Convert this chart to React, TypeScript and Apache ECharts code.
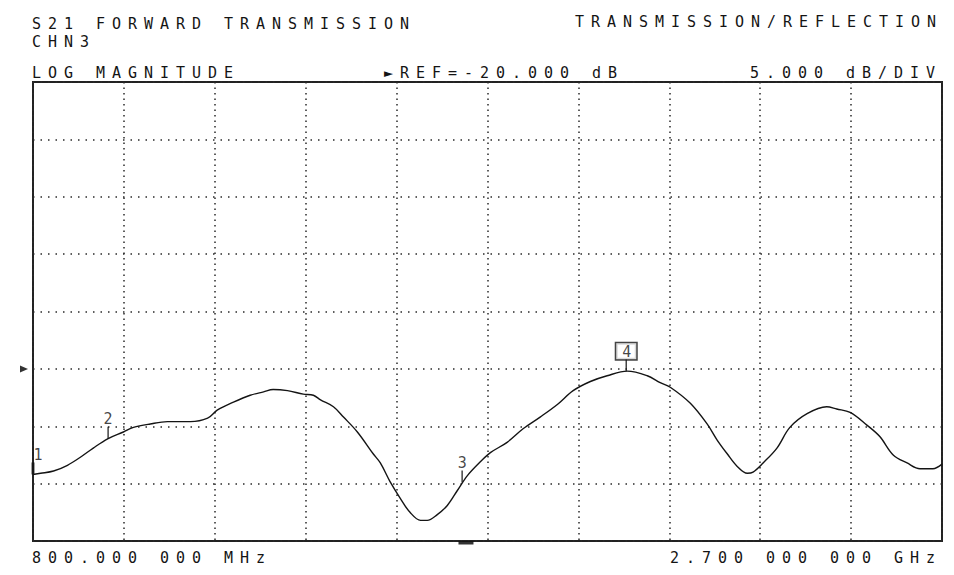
import React, { useEffect, useRef } from 'react';
import * as echarts from 'echarts';

const FREQ_MHZ = [
  800, 816, 843, 872, 899, 926, 956, 989, 1010, 1045, 1081, 1129, 1165, 1185, 1219, 1254, 1282, 1302,
  1332, 1365, 1386, 1401, 1428, 1449, 1478, 1511, 1526, 1546, 1568, 1588, 1610, 1624, 1645, 1666, 1687,
  1708, 1735, 1756, 1791, 1825, 1860, 1896, 1929, 1965, 2000, 2042, 2084, 2111, 2132, 2174, 2209, 2230,
  2251, 2272, 2293, 2305, 2326, 2355, 2382, 2418, 2459, 2480, 2508, 2543, 2570, 2598, 2627, 2654, 2681, 2700,
];
const S21_DB = [
  -29.2, -29.1, -28.9, -28.4, -27.7, -26.9, -26.1, -25.5, -25.1, -24.8, -24.6, -24.6, -24.3, -23.6, -22.9,
  -22.3, -22.0, -21.8, -21.9, -22.2, -22.3, -22.7, -23.3, -24.2, -25.5, -27.4, -28.2, -29.8, -31.3, -32.5,
  -33.2, -33.2, -32.7, -31.9, -30.6, -29.3, -28.1, -27.3, -26.4, -25.2, -24.2, -23.1, -21.9, -21.1, -20.6,
  -20.2, -20.6, -21.2, -21.6, -23.0, -24.8, -26.2, -27.4, -28.5, -29.1, -29.0, -28.2, -26.9, -25.1, -23.9,
  -23.3, -23.5, -23.8, -24.9, -25.9, -27.5, -28.2, -28.7, -28.7, -28.3,
];
const MARKER_FREQ = [800, 957, 1697, 2040];
const MARKER_DB = [-29.2, -26.1, -29.9, -20.2];
const MARKER_LABELS = ['1', '2', '3', '4'];
const ACTIVE_MARKER = 3;
const REF_LEVEL_DB = -20;
const STIMULUS_MARK_MHZ = 1705;
const X_START_MHZ = 800;
const X_STOP_MHZ = 2700;
const Y_TOP_DB = 5;
const Y_BOTTOM_DB = -35;
const DB_PER_DIV = 5;
const X_DIVISIONS = 10;

// ---- Screen texts ----
const TXT_MEAS = 'S21 FORWARD TRANSMISSION';
const TXT_MODE = 'TRANSMISSION/REFLECTION';
const TXT_CHAN = 'CHN3';
const TXT_FORMAT = 'LOG MAGNITUDE';
const TXT_REF = '\u25BAREF=-20.000 dB';
const TXT_SCALE = '5.000 dB/DIV';
const TXT_START = '800.000 000 MHz';
const TXT_STOP = '2.700 000 000 GHz';

const FONT_FAMILY = '"DejaVu Sans Mono", "Liberation Mono", monospace';
const FONT_SIZE = 15;
const CHAR_PITCH = 16;
const LETTER_SPACING = CHAR_PITCH - FONT_SIZE * 0.602;
const INK = '#141414';

const SPACED_TEXTS = new Set([TXT_MEAS, TXT_MODE, TXT_CHAN, TXT_FORMAT, TXT_REF, TXT_SCALE, TXT_START, TXT_STOP]);

function headerText(text: string, x: number, y: number) {
  return {
    type: 'text',
    x,
    y,
    silent: true,
    style: {
      text,
      fill: INK,
      font: `${FONT_SIZE}px ${FONT_FAMILY}`,
      textAlign: 'left',
      textVerticalAlign: 'middle',
    },
  };
}

export default function App() {
  const ref = useRef<HTMLDivElement>(null);

  useEffect(() => {
    if (!ref.current) return;
    const el = ref.current;
    const chart = echarts.init(el, undefined, { renderer: 'svg' });

    const traceData = FREQ_MHZ.map((f, i) => [f, S21_DB[i]]);

    const markerData = MARKER_FREQ.map((f, i) => {
      const active = i === ACTIVE_MARKER;
      return {
        value: [f, MARKER_DB[i]],
        symbol: 'rect',
        symbolSize: i === 0 ? [3, 12] : [1.5, 12],
        symbolOffset: [0, -6],
        label: active
          ? {
              show: true,
              position: 'top',
              distance: 0,
              formatter: MARKER_LABELS[i],
              color: INK,
              fontFamily: FONT_FAMILY,
              fontSize: FONT_SIZE,
              borderColor: INK,
              borderWidth: 1.5,
              padding: [1, 5, 0, 6],
              backgroundColor: '#fff',
            }
          : {
              show: true,
              position: 'top',
              distance: 0,
              formatter: MARKER_LABELS[i],
              color: INK,
              fontFamily: FONT_FAMILY,
              fontSize: FONT_SIZE,
              offset: i === 0 ? [5, 0] : [0, 0],
            },
      };
    });

    const option: any = {
      animation: false,
      backgroundColor: '#ffffff',
      grid: {
        left: 33,
        right: 12,
        top: 82,
        bottom: 34,
        show: true,
        borderColor: '#222',
        borderWidth: 2,
        backgroundColor: 'transparent',
      },
      xAxis: [
        {
          type: 'value',
          min: X_START_MHZ,
          max: X_STOP_MHZ,
          show: false,
        },
        {
          type: 'value',
          min: 0,
          max: X_DIVISIONS,
          interval: 1,
          position: 'top',
          axisLine: { show: false },
          axisTick: { show: false },
          axisLabel: { show: false },
          splitLine: { show: true, lineStyle: { color: '#2a2a2a', width: 1.5, type: [1.5, 4] } },
        },
      ],
      yAxis: {
        type: 'value',
        min: Y_BOTTOM_DB,
        max: Y_TOP_DB,
        interval: DB_PER_DIV,
        axisLine: { show: false },
        axisTick: { show: false },
        axisLabel: { show: false },
        splitLine: { show: true, lineStyle: { color: '#2a2a2a', width: 1.5, type: [1.5, 6] } },
      },
      graphic: [
        headerText(TXT_MEAS, 32, 24),
        headerText(TXT_MODE, 575, 22),
        headerText(TXT_CHAN, 32, 42),
        headerText(TXT_FORMAT, 32, 73),
        headerText(TXT_REF, 384, 73),
        headerText(TXT_SCALE, 750, 73),
        headerText(TXT_START, 32, 558),
        headerText(TXT_STOP, 670, 558),
      ],
      series: [
        {
          type: 'line',
          name: 'S21',
          xAxisIndex: 0,
          data: traceData,
          showSymbol: false,
          smooth: 0.35,
          lineStyle: { color: INK, width: 1.4 },
          silent: true,
          z: 3,
        },
        {
          type: 'scatter',
          name: 'Markers',
          xAxisIndex: 0,
          data: markerData,
          itemStyle: { color: INK },
          clip: false,
          silent: true,
          z: 4,
        },
        {
          type: 'scatter',
          name: 'Reference',
          xAxisIndex: 0,
          data: [[X_START_MHZ, REF_LEVEL_DB]],
          symbol: 'triangle',
          symbolSize: [7, 8],
          symbolRotate: -90,
          symbolOffset: [-9, 0],
          itemStyle: { color: '#000' },
          clip: false,
          silent: true,
          z: 4,
        },
        {
          type: 'scatter',
          name: 'Stimulus',
          xAxisIndex: 0,
          data: [[STIMULUS_MARK_MHZ, Y_BOTTOM_DB]],
          symbol: 'rect',
          symbolSize: [15, 3],
          symbolOffset: [0, 2],
          itemStyle: { color: '#000' },
          clip: false,
          silent: true,
          z: 4,
        },
      ],
    };

    const applySpacing = () => {
      el.querySelectorAll('text').forEach((t) => {
        if (SPACED_TEXTS.has((t.textContent || '').trim())) {
          t.setAttribute('letter-spacing', LETTER_SPACING.toFixed(2));
        }
      });
    };

    chart.setOption(option);
    applySpacing();
    chart.on('finished', applySpacing);

    return () => {
      chart.dispose();
    };
  }, []);

  return (
    <div
      ref={ref}
      style={{ position: 'fixed', left: 0, top: 0, width: 954, height: 575, background: '#fff' }}
    />
  );
}
